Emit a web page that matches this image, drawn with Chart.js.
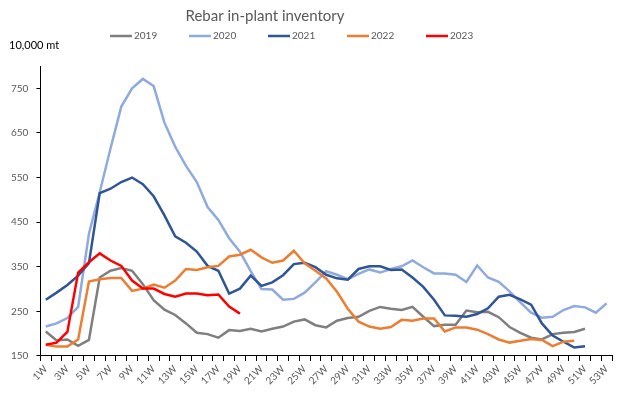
<!DOCTYPE html>
<html>
<head>
<meta charset="utf-8">
<title>Rebar in-plant inventory</title>
<script src="https://cdn.jsdelivr.net/npm/chart.js@4.4.0/dist/chart.umd.min.js"></script>
<style>
    html, body { margin: 0; padding: 0; background: #ffffff; }
    #wrap { width: 620px; height: 399px; }
</style>
</head>
<body>
<div id="wrap"><canvas id="inventoryChart" width="620" height="399"></canvas></div>
<script>
// datos (10,000 mt)
const weeks = ['1W', '2W', '3W', '4W', '5W', '6W', '7W', '8W', '9W', '10W',
    '11W', '12W', '13W', '14W', '15W', '16W', '17W', '18W', '19W', '20W',
    '21W', '22W', '23W', '24W', '25W', '26W', '27W', '28W', '29W', '30W',
    '31W', '32W', '33W', '34W', '35W', '36W', '37W', '38W', '39W', '40W',
    '41W', '42W', '43W', '44W', '45W', '46W', '47W', '48W', '49W', '50W',
    '51W', '52W', '53W'];

const inv2019 = [205, 185, 187, 173, 186, 326, 341, 347, 341, 311,
    275, 254, 242, 223, 202, 199, 191, 208, 206, 211,
    205, 211, 216, 227, 232, 219, 214, 229, 235, 238,
    251, 260, 256, 253, 260, 238, 217, 220, 220, 252,
    248, 249, 237, 215, 202, 191, 187, 199, 202, 204,
    211];

const inv2020 = [216, 223, 235, 260, 424, 517, 615, 709, 750, 771,
    755, 673, 619, 576, 540, 484, 455, 414, 384, 340,
    300, 299, 276, 278, 292, 315, 340, 332, 322, 334,
    344, 337, 345, 351, 364, 349, 335, 335, 332, 316,
    353, 326, 316, 295, 270, 247, 236, 238, 253, 262,
    259, 247, 268];

const inv2021 = [276, 292, 309, 330, 358, 515, 525, 540, 550, 535,
    508, 465, 418, 404, 384, 352, 341, 290, 301, 330,
    307, 315, 331, 356, 359, 349, 332, 324, 321, 345,
    351, 351, 343, 344, 326, 305, 276, 241, 240, 238,
    244, 257, 283, 287, 277, 265, 223, 196, 182, 169,
    172];

const inv2022 = [175, 171, 171, 187, 317, 322, 325, 325, 296, 301,
    310, 303, 319, 345, 343, 349, 352, 373, 377, 388,
    371, 359, 364, 386, 358, 341, 324, 294, 256, 227,
    216, 211, 215, 231, 229, 234, 234, 205, 214, 214,
    209, 199, 187, 180, 184, 188, 186, 172, 182, 184];

const inv2023 = [175, 180, 204, 337, 360, 380, 364, 352, 319, 301,
    301, 289, 283, 290, 290, 286, 288, 261, 245];

const seriesNames = ['2019', '2020', '2021', '2022', '2023'];
const seriesColors = ['#7f7f7f', '#8faadc', '#2f5597', '#ed7d31', '#ff0000'];
const yTicks = [150, 250, 350, 450, 550, 650, 750];

const chartTitle = 'Rebar in-plant inventory';
const unitText = '10,000 mt';

const FONT = 'Lato, "Liberation Sans", sans-serif';
const TEXT_GRAY = '#595959';

// Titulo, leyenda y unidad dibujados a mano (posiciones como en Excel)
const headerPlugin = {
    id: 'headerPlugin',
    afterDraw(chart) {
        const ctx = chart.ctx;
        ctx.save();
        ctx.textBaseline = 'middle';

        ctx.fillStyle = TEXT_GRAY;
        ctx.font = '15px ' + FONT;
        ctx.textAlign = 'center';
        ctx.fillText(chartTitle, 265, 16);

        ctx.textAlign = 'left';
        ctx.font = '10px ' + FONT;
        chart.data.datasets.forEach((ds, i) => {
            const x = 110 + i * 79;
            ctx.strokeStyle = ds.borderColor;
            ctx.lineWidth = 2.5;
            ctx.beginPath();
            ctx.moveTo(x, 36);
            ctx.lineTo(x + 22, 36);
            ctx.stroke();
            ctx.fillText(ds.label, x + 24, 36);
        });

        ctx.fillStyle = '#000000';
        ctx.font = '11px ' + FONT;
        ctx.fillText(unitText, 9, 45);
        ctx.restore();
    }
};

function buildDatasets() {
    const values = [inv2019, inv2020, inv2021, inv2022, inv2023];
    return values.map((data, i) => ({
        label: seriesNames[i],
        data: data,
        borderColor: seriesColors[i],
        backgroundColor: seriesColors[i],
        borderWidth: 2.5,
        pointRadius: 0,
        pointHoverRadius: 0,
        tension: 0,
        fill: false,
        order: values.length - i
    }));
}

const ctx = document.getElementById('inventoryChart').getContext('2d');
window.inventoryChart = new Chart(ctx, {
    type: 'line',
    data: {
        labels: weeks,
        datasets: buildDatasets()
    },
    options: {
        responsive: false,
        animation: false,
        devicePixelRatio: 1,
        layout: {
            padding: { top: 66, left: 3, right: 8, bottom: 10 }
        },
        plugins: {
            legend: { display: false },
            title: { display: false },
            tooltip: { enabled: false }
        },
        scales: {
            x: {
                offset: true,
                grid: {
                    offset: true,
                    drawOnChartArea: false,
                    drawTicks: true,
                    tickLength: 5,
                    color: '#000000'
                },
                border: { color: '#000000', width: 1 },
                ticks: {
                    autoSkip: false,
                    minRotation: 45,
                    maxRotation: 45,
                    padding: 2,
                    color: TEXT_GRAY,
                    font: { family: FONT, size: 10 },
                    callback: function(value, index) {
                        return index % 2 === 0 ? this.getLabelForValue(value) : '';
                    }
                }
            },
            y: {
                min: 150,
                max: 800,
                afterBuildTicks: function(axis) {
                    axis.ticks = yTicks.map(v => ({ value: v }));
                },
                grid: {
                    drawOnChartArea: false,
                    drawTicks: true,
                    tickLength: 4,
                    color: '#000000'
                },
                border: { color: '#000000', width: 1 },
                ticks: {
                    padding: 8,
                    color: TEXT_GRAY,
                    font: { family: FONT, size: 10 }
                }
            }
        }
    },
    plugins: [headerPlugin]
});
</script>
</body>
</html>
